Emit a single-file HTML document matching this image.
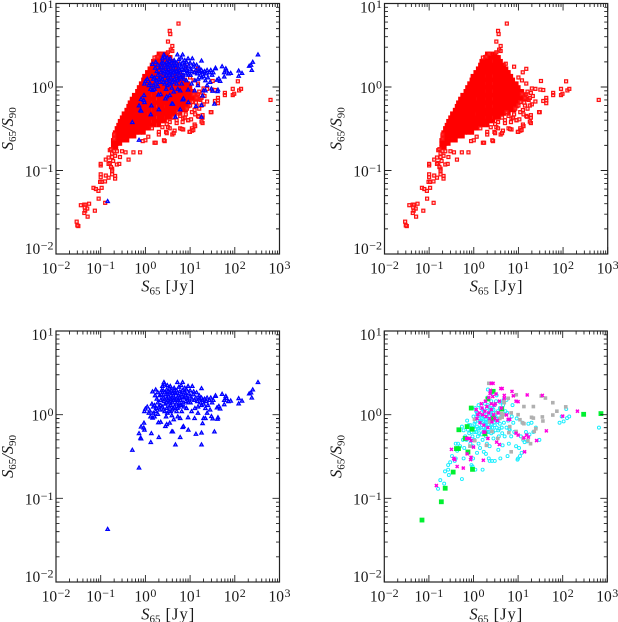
<!DOCTYPE html>
<html><head><meta charset="utf-8"><title>S65/S90 flux ratio panels</title>
<style>
html,body{margin:0;padding:0;background:#fff;width:618px;height:622px;overflow:hidden}
svg{display:block}
text{font-family:"Liberation Serif",serif;fill:#1a1a1a}
</style></head>
<body>
<svg id="chart" xmlns="http://www.w3.org/2000/svg" width="618" height="622" viewBox="0 0 618 622"></svg>
<script>
const xTickExponents = [-2,-1,0,1,2,3];
const yTickExponents = [-2,-1,0,1];

const redCoreRows = [
[2.5,[2,2.4,3]],
[2.27,[1.8,2.2,2.7,3.3,3.6]],
[2.04,[1.5,1.75,2,2.4,3,3.6,4]],
[1.84,[1.4,1.6,1.9,2.2,2.7,3.3,3.9,4.7]],
[1.66,[1.25,1.45,1.75,2.1,2.5,3,3.6,4.3,5.3]],
[1.5,[1.1,1.3,1.6,1.9,2.3,2.7,3.3,3.9,4.7,5.6,6]],
[1.35,[.95,1.1,1.3,1.6,2,2.4,3,3.6,4.3,5.1,6.2,6.8]],
[1.22,[.9,1.05,1.25,1.5,1.8,2.2,2.7,3.3,3.9,4.7,5.6,6.8,7.5]],
[1.1,[.8,.95,1.1,1.3,1.6,2,2.4,3,3.6,4.3,5.1,6.2,7.5,9]],
[.99,[.72,.85,1,1.2,1.5,1.8,2.2,2.7,3.3,3.9,4.7,5.6,6.8,8.2,10]],
[.89,[.66,.78,.91,1.1,1.3,1.6,2,2.4,3,3.6,4.3,5.1,6.2,7.5,9.1,11,12]],
[.8,[.56,.68,.82,1,1.2,1.5,1.8,2.2,2.7,3.3,3.9,4.7,5.6,6.8,8.2,10,12,14]],
[.72,[.5,.6,.72,.88,1.05,1.3,1.6,2,2.4,3,3.6,4.3,5.1,6.2,7.5,9.1,11,13,16]],
[.65,[.45,.56,.68,.82,1,1.2,1.5,1.8,2.2,2.7,3.3,3.9,4.7,5.6,6.8,8.2,10]],
[.59,[.42,.5,.6,.75,.91,1.1,1.3,1.6,2,2.4,3,3.6,4.3,5.1,6.2,7.5,9.1]],
[.53,[.38,.47,.56,.68,.82,1,1.2,1.5,1.8,2.2,2.7,3.3,3.9,4.7,5.6,6.8,8]],
[.48,[.33,.4,.48,.58,.7,.85,1,1.25,1.5,1.8,2.2,2.7,3.3,3.9,4.7,6]],
[.43,[.3,.36,.43,.51,.62,.75,.91,1.1,1.3,1.6,2,2.4,3,3.6]],
[.39,[.27,.33,.39,.47,.56,.68,.82,1,1.2,1.5,1.8,2.2,2.7]],
[.35,[.25,.3,.36,.43,.51,.62,.75,.91,1.1,1.3,1.6,2]],
[.32,[.23,.27,.33,.39,.47,.56,.68,.82,1,1.2]],
[.285,[.21,.25,.3,.36,.43,.51,.62,.75,.91]],
[.257,[.2,.24,.28,.33,.39,.47,.56]],
[.23,[.19,.22,.27,.33,.39]],
[.21,[.19,.23,.27]],
[.19,[.19,.22]]
];
const redOutliers = [
[5.5,5.75],[3.5,4.7],[3.6,4.3],[3.2,3.5],[4,3.1],[3.7,2.8],[3.2,2.6],[4,2.7],[2.2,2.5],[1.6,2.25],[1.9,2.3],
[5.2,1.9],[8,1.75],[15,1.65],[12.5,1.5],[32,1.18],[117,1.17],[10,1.3],[15,1.1],[12,1.2],[20,.96],[24,.95],[36,.92],[31,.93],
[60,.85],[60,.8],[90,.8],[90,.95],[97,.83],[125,.91],[138,.95],[42,.74],[42,.69],[36,.68],[42,.64],[24,.67],[630,.7],[30,.5],
[19,.43],[19,.37],[15,.45],[13,.34],[11,.32],[9.7,.29],[11,.3],[6,.32],[7,.31],[4,.27],[2.7,.225],[1.6,.215],[1.7,.215],
[2,.27],[2.9,.29],[3.2,.33],[1,.23],[.76,.165],[.42,.135],[.54,.165],[4.5,.3],[3.5,.38],[5,.4],[7,.42],[9,.4],[10.5,.41],[6,.45],[8,.47],[11,.5],[13,.47],[16,.55],[14,.6],[20,.62],[17,.7],[21,.78],[19,.85],[15,.82],
[2.6,.23],[1.16,.254],[.87,.225],[9.9,.29],[11.8,.305],[12.6,.355],[18,.385],[15.5,.44],[29,.5],[19,.46],[6.5,.314],[4.3,.28],[3.5,.32],[3,.28],[2,.29],[1.4,.32],[5,.37],[7.6,.43],[9.1,.4],[12.6,.53],[18,.6],[18,.74],[13.5,.65],[10,.6],[4.3,.43],[5.4,.5],[3,.36],[2.4,.33],[6.8,.38],[8.5,.55],[11,.66],[14,.74],[12,.82],[16,.88],
[.029,.0244],[.0316,.0216],[.03,.022],[.036,.0384],[.043,.039],[.046,.039],[.055,.04],[.045,.033],[.043,.031],[.05,.035],[.051,.028],[.044,.036],
[.074,.033],[.069,.062],[.078,.06],[.089,.057],[.105,.062],[.09,.046],[.126,.041],[.097,.073],[.105,.073],[.1,.09],[.1,.083],[.1,.115],[.1,.12],
[.13,.087],[.15,.082],[.125,.074],[.21,.08],[.18,.09],[.21,.086],[.16,.123],[.13,.135],[.18,.145],[.15,.12],[.19,.13],[.23,.118],[.26,.12],[.18,.105],[.18,.1],[.17,.11],[.15,.143],[.16,.175],[.27,.145],[.21,.15],[.23,.17],[.3,.17],[.36,.165],[.2,.27],[.2,.24],[.17,.18],[.18,.16],[.2,.17]
];
const blueSources = [
[.143,.043],[.51,.38],[.72,.233],[.72,.6],[.8,.72],[.93,.8],[.78,.53],[.8,.52],[.95,.66],[.92,.7],[1.32,.47],[1.36,.6],[2,.54],[1.95,.81],[2.2,.82],[2.8,.73],[3,.77],[3.9,.63],[4.1,.63],[6,.54],[4.7,.44],[6.8,.71],[7.1,.73],[9.1,.66],[13.5,.59],[18,.61],[18,.44],[19,.79],[20,.91],[22,.91],[12.6,.91],[9,.93],[6,.91],[4.3,.88],[3.5,.8],
[35,.63],[32,.9],[30,.96],[41,.89],[42,.93],[122,1.36],[122,1.57],[145,1.47],[210,1.79],[230,1.84],[240,1.6],[252,2],[330,2.45],
[52,1.77],[63,1.67],[65,1.57],[58,1.5],[58,1.33],[72,1.45],[81,1.47],[40,1.22],[44,1.27],[47,1.18],[37,1.67],[37,1.7],
[2.6,2.45],[5.2,2.45],[6.8,2.45],[9,2.2],[11.2,2.2],[18,2.07],[1.44,1.89],[1.7,2],[2.7,2.3],[2.4,2.2],[3.1,2.25],[3.6,2.2],[4.4,2.1],[5.6,2.15],[6.3,2.25],[7.6,2.1],[8.3,2],[10,1.95],[12,1.9],[14,1.85],[16,1.7],
[1.1,1.25],[1,1.18],[.95,1.1],[1.25,1.12],[1.4,1.35],[1.3,.95],[1.45,.92],[1.6,.95],[1.5,1.05],[1.75,1.2],[1.9,1.02],[2.1,1.15],[2.2,1.3],[1.9,1.4],[1.8,1.55],[2.1,1.7],[1.9,1.85],[2.3,1.95],[2.5,1.6],[2.6,1.45],[2.4,1.25],[2.7,1.1],[2.9,.95],[3.1,1.05],[2.8,1.35],[3,1.55],[2.9,1.75],[3.2,1.9],[3.5,2.05],[3.3,1.65],[3.6,1.45],[3.4,1.25],[3.7,1.1],[3.9,.98],[4.2,1.2],[4.1,1.4],[3.9,1.6],[4,1.8],[4.4,1.95],[4.8,1.8],[4.6,1.55],[4.9,1.35],[5,1.1],[5.3,.95],[5.5,1.25],[5.4,1.5],[5.5,1.7],[5.9,1.9],[6.3,1.75],[6.1,1.5],[6.4,1.3],[6.5,1.1],[7,1.4],[7.2,1.6],[7.4,1.85],[7.8,1.7],[8,1.45],[8.3,1.2],[8.9,1.55],[9.4,1.8],[9.8,1.65],[10.2,1.4],[10.8,1.1],[11,1.55],[11.7,1.75],[12.5,1.5],[12.8,1.2],[13.5,1.6],[14.5,1.45],[15,1.25],[16,1.55],[17,1.4],[18,1.6],[19,1.5],[20,1.35],[21,1.55],[22,1.2],[23,1.45],[24,1.6],[25,1.3],[27,1.5],[28,1.15],[29,1.6],[31,1.4],[33,1.5],[24,1.05],[15,1.05],[18,1.3],
[2,1.25],[2.2,1.5],[2.3,1.75],[2.5,1.95],[2.5,1.15],[2.7,1.55],[2.7,1.85],[3,1.2],[3,1.4],[3,2],[3.2,1.5],[3.2,1.75],[3.4,1.1],[3.4,1.4],[3.5,1.85],[3.7,1.3],[3.7,1.55],[3.8,1.95],[4,1.15],[4.2,1.7],[4.3,1.5],[4.5,1.25],[4.6,1.85],[5,1.55],[5,1.95],[5.2,1.2],[5.7,1.4],[5.8,1.6],[6,1.3],[6.6,1.65],[6.7,1.95],[7.3,1.25],[8,1.8],[8.5,1.6],[9.2,1.4],[1.6,1.3],[1.7,1.1],[1.5,1.25],[1.2,1.05],[1.65,1.7]
];
const cyanSources = [
[.16,.13],[.18,.165],[.22,.15],[.23,.21],[.27,.22],[.27,.25],[.28,.19],[.3,.27],[.33,.32],[.38,.28],[.4,.3],[.4,.45],[.45,.45],[.43,.37],[.5,.42],[.55,.17],[.6,.3],[.62,.4],[.65,.55],[.55,.72],[.72,.85],[.8,.6],[.85,.45],[.9,.25],[.95,.24],[.98,.42],[1.1,.22],
[.7,.5],[.75,.66],[.85,.75],[.9,.62],[.95,.55],[1,.7],[1,.95],[1.05,.5],[1.1,.82],[1.15,.62],[1.2,.72],[1.2,1.05],[1.25,.55],[1.3,.9],[1.3,.45],[1.35,.68],[1.4,.82],[1.45,1.2],[1.5,.58],[1.5,.98],[1.55,.75],[1.6,.5],[1.65,.88],[1.7,1.1],[1.75,.65],[1.8,1.35],[1.85,.8],[1.9,.55],[1.95,1],[2,.72],[2,1.2],[2.05,1.6],[2.1,2],[2.15,.9],[2.2,.62],[2.3,1.1],[2.3,.42],[2.4,.82],[2.5,1.45],[2.5,1.8],[2.6,.7],[2.7,1.05],[2.8,.52],[2.9,.88],[3,1.3],[3,.28],[3.1,.65],[3.2,1.05],[3.3,1.7],[3.5,.82],[3.6,.38],[3.7,.55],[3.8,.68],[3.9,1.2],[4,.3],[4.2,.95],[4.3,.7],[4.5,.43],[4.7,1.5],[4.8,.8],[5,.55],[5.2,1.1],[5.5,.7],[5.8,.32],[6,.85],[6.2,.45],[6.5,.66],[7,.55],[7.5,1.3],[7.8,.8],[8.2,.62],[9,.42],[9.3,.9],[9.7,.29],[10,.3],[10.5,.4],[11,.32],[11.5,.55],[12,.35],[12.5,.8],[13,.5],[14,.47],[15,.62],[16,.48],[17,.78],[18,.58],[20,.8],[22,.62],[25,.7],[30,.5],[95,.95],[85,.8],[105,.83],[125,.91],[140,.95],[120,1.17],[650,.7],
[2.2,.3],[2.3,.28],[2.6,.28],[1.6,.22],[1.9,.34],[2,.45],[1.2,.35],[1.4,.4],[.98,.3],[1.7,.36],[.6,.65],[.58,.5],[.78,.75],[1.1,1.2],[1.15,1.1],[1.3,1.3],[1.4,1],[1.5,.85],[1.6,1.15],[1.7,.7],[1.8,.95],[1.9,.82],[2.1,1.3],[2.2,1.05],[2.3,.85],[2.4,1.2],[2.5,.6],[2.6,.95],[2.8,1.15],[3,.75],[3.2,1.45],[3.5,1.1],[3.7,.9],[4,1.4],[4.4,.6],[4.6,1.3],[5.5,1.5],[5.7,1.05],[6.3,.68],[7.2,.95],
[1.05,.78],[1.25,.85],[1.35,.6],[1.45,.7],[1.55,.9],[1.65,.62],[1.75,.78],[1.85,.68],[1.95,.88],[2.05,.62],[2.15,.75],[2.25,.95],[2.35,.7],[2.45,1.05],[2.55,.78],[2.65,1.2],[2.75,.62],[2.85,.8],[3.1,.95],[3.3,.7],[3.4,.9],[3.6,.65],[3.9,.78],[1.15,.95],[1.25,.68],[1.05,.62]
];
const magentaSources = [
[.147,.142],[.32,.385],[.38,.29],[.36,.3],[.59,.23],[.43,.24],[.72,.34],[.88,.31],[.86,.29],[.88,.49],[1,.41],[.7,.52],[.82,.52],[1.66,.285],[35,1.7],[16,1.72],[7.3,1.9],[7.8,1.68],[214,1.1],[100,.96],[43,.64],[26,.49],[14,.36],[15.5,.57],[17,.54],[13.5,.53],[9,.6],[10,.57],[4.1,2.05],[4.4,2.05],[2.5,2.37],[2.75,2.37],[2.35,1.8],[3.2,1.77],[9,1.45],[10,1.43],[4.9,1.57],[5.5,.99],[6.5,.88],[2.1,.52],[3.3,.47],[3.8,.44],
[1.15,1.15],[1.2,.9],[1.25,1],[1.35,1.05],[1.4,.8],[1.5,1.35],[1.55,1.2],[1.6,1],[1.7,.75],[1.8,1.1],[1.85,1.45],[1.9,.95],[2,1.25],[2.1,.7],[2.2,1.05],[2.2,1.6],[2.3,.9],[2.4,1.95],[2.5,1.15],[2.5,1.35],[2.6,.82],[2.7,1.65],[2.8,1],[2.9,1.3],[3,.9],[3.1,1.35],[3.4,.85],[3.6,1.05],[3.8,1.45],[4.2,1.2],[4.9,1.7],[.75,.52],[1.7,.62],[1.8,.62],[6,.88]
];
const graySources = [
[2.2,2.37],[2.5,2.37],[6,1.57],[9.1,1.73],[41,1.58],[33,1.67],[60,1.39],[74,1.1],[60,.99],[117,1.24],[22,1.25],[13.5,1.25],[10,1],[7,1.05],[4.9,1.39],[11,.87],[12.6,.8],[13.5,.78],[20,.93],[22,.91],[35,.94],[36,.84],[25,.68],[23,.63],[19,.45],[7,.36],[6.2,.61],[6.5,.72],[4.9,1],[3.9,.9],[4.3,1.03],[3.5,.52],[1.95,.43],[1.07,.49],[.83,.42],[1.05,.88],[2.3,.82],[2.6,.63],[4.4,.93],[9,.63],[13,.52],[16.6,.49],[3.4,1.05],[4.8,1.45]
];
const greenSources = [
[.07,.055],[.19,.091],[.232,.132],[.35,.206],[.95,.222],[.415,.393],[.46,.393],[.75,.358],[.47,.66],[.65,.52],[.72,.72],[.93,.67],[.89,1.2],[1.8,.59],[2.1,1.54],[2.76,1.9],[2.8,.91],[4.3,1.17],[295,1.01],[720,1.03]
];

const svg = document.getElementById('chart');
const NS = 'http://www.w3.org/2000/svg';
function mk(tag, attrs, parent) {
  const e = document.createElementNS(NS, tag);
  for (const k in attrs) e.setAttribute(k, attrs[k]);
  parent.appendChild(e);
  return e;
}
function redCorePoints() {
  const out = [];
  redCoreRows.forEach(function (row) {
    row[1].forEach(function (s) { out.push([s, row[0]]); });
  });
  return out;
}
function scales(p) {
  return {
    x: function (v) { return p.x0 + (Math.log10(v) + 2) / 5 * (p.x1 - p.x0); },
    y: function (v) { return p.y0 + (1 - Math.log10(v)) / 3 * (p.y1 - p.y0); }
  };
}
function square(g, cx, cy, s, stroke, fill, sw) {
  return mk('rect', {x: cx - s / 2, y: cy - s / 2, width: s, height: s, fill: fill, stroke: stroke, 'stroke-width': sw}, g);
}
const painters = {
  redCore: function (g, x, y) { return square(g, x, y, 3.2, '#ff0000', '#ff0000', 1.2); },
  red: function (g, x, y) { return square(g, x, y, 3, '#ff1010', 'rgba(255,120,120,.35)', 1.2); },
  blue: function (g, x, y) {
    return mk('path', {d: 'M' + (x - 1.7) + ' ' + (y + 1.4) + 'h3.4L' + x + ' ' + (y - 1.6) + 'z', fill: 'rgba(120,120,255,.4)', stroke: '#0000ff', 'stroke-width': 1.25}, g);
  },
  cyan: function (g, x, y) { return mk('circle', {cx: x, cy: y, r: 1.5, fill: 'none', stroke: '#18eeff', 'stroke-width': .95}, g); },
  magenta: function (g, x, y) {
    return mk('path', {d: 'M' + (x - 1.5) + ' ' + (y - 1.5) + 'l3 3M' + (x - 1.5) + ' ' + (y + 1.5) + 'l3 -3', fill: 'none', stroke: '#ff00e0', 'stroke-width': 1.5}, g);
  },
  gray: function (g, x, y) { return square(g, x, y, 3.6, 'none', '#b0b0b0', 0); },
  green: function (g, x, y) { return square(g, x, y, 4.8, 'none', '#00f030', 0); }
};
function drawSeries(panel, sc, pts, kind) {
  const g = mk('g', {}, panel);
  
  
  pts.forEach(function (pt) {
    const el = painters[kind](g, sc.x(pt[0]), sc.y(pt[1]));
    
    
  });
}
function tickLabel(parent, anchorX, baseY, exp, anchor) {
  const t = mk('text', {x: anchorX, y: baseY, 'text-anchor': anchor, 'font-size': 15.5}, parent);
  
  
  t.appendChild(document.createTextNode('10'));
  const s = mk('tspan', {dy: -4.5, dx: .5, 'font-size': 12}, t);
  s.textContent = String(exp).replace('-', '\u2212');
}
function drawAxes(panel, p, sc) {
  let d = '';
  xTickExponents.forEach(function (e, i) {
    const v = Math.pow(10, e), X = sc.x(v);
    d += 'M' + X + ' ' + p.y1 + 'v-7M' + X + ' ' + p.y0 + 'v7';
    if (i < xTickExponents.length - 1) {
      for (let m = 2; m < 10; m++) {
        const Xm = sc.x(m * v);
        d += 'M' + Xm + ' ' + p.y1 + 'v-3.5M' + Xm + ' ' + p.y0 + 'v3.5';
      }
    }
  });
  yTickExponents.forEach(function (e, i) {
    const v = Math.pow(10, e), Y = sc.y(v);
    d += 'M' + p.x0 + ' ' + Y + 'h7M' + p.x1 + ' ' + Y + 'h-7';
    if (i < yTickExponents.length - 1) {
      for (let m = 2; m < 10; m++) {
        const Ym = sc.y(m * v);
        d += 'M' + p.x0 + ' ' + Ym + 'h3.5M' + p.x1 + ' ' + Ym + 'h-3.5';
      }
    }
  });
  const ticks = mk('path', {d: d, fill: 'none', stroke: '#222', 'stroke-width': .9}, panel);
  
  
  const frame = mk('rect', {x: p.x0, y: p.y0, width: p.x1 - p.x0, height: p.y1 - p.y0, fill: 'none', stroke: '#222', 'stroke-width': 1.2}, panel);
  
  

  xTickExponents.forEach(function (e) {
    tickLabel(panel, sc.x(Math.pow(10, e)), p.y1 + 19.5, e, 'middle');
  });
  yTickExponents.forEach(function (e) {
    let base = sc.y(Math.pow(10, e)) + 6;
    if (e === 1) base += 3;
    if (e === -2) base -= 6;
    tickLabel(panel, p.x0 - 2.5, base, e, 'end');
  });

  const xt = mk('text', {x: (p.x0 + p.x1) / 2 + .5, y: p.y1 + 37.5, 'text-anchor': 'middle', 'font-size': 16.5}, panel);
  
  
  mk('tspan', {'font-style': 'italic'}, xt).textContent = 'S';
  mk('tspan', {dy: 3, 'font-size': 11}, xt).textContent = '65';
  mk('tspan', {dy: -3, dx: 5, 'letter-spacing': 1}, xt).textContent = '[Jy]';

  const cy = (p.y0 + p.y1) / 2;
  const bx = p.x0 - 43;
  const yt = mk('text', {x: bx, y: cy, 'text-anchor': 'middle', 'font-size': 16.5, transform: 'rotate(-90 ' + bx + ' ' + cy + ')'}, panel);
  
  
  mk('tspan', {'font-style': 'italic'}, yt).textContent = 'S';
  mk('tspan', {dy: 3, 'font-size': 11}, yt).textContent = '65';
  mk('tspan', {dy: -3, 'font-style': 'italic'}, yt).textContent = '/S';
  mk('tspan', {dy: 3, 'font-size': 11}, yt).textContent = '90';
}

const panels = [
  {name: 'panel-red-blue', x0: 56, x1: 279.5, y0: 3.5, y1: 254, series: [[redCorePoints(), 'redCore'], [redOutliers, 'red'], [blueSources, 'blue']]},
  {name: 'panel-red', x0: 384.5, x1: 607.7, y0: 3.5, y1: 254, series: [[redCorePoints(), 'redCore'], [redOutliers, 'red']]},
  {name: 'panel-blue', x0: 56, x1: 279.5, y0: 331, y1: 582, series: [[blueSources, 'blue']]},
  {name: 'panel-classes', x0: 384.3, x1: 607.3, y0: 331, y1: 582, series: [[cyanSources, 'cyan'], [graySources, 'gray'], [greenSources, 'green'], [magentaSources, 'magenta']]}
];
panels.forEach(function (p) {
  const g = mk('g', {}, svg);
  
  
  const sc = scales(p);
  p.series.forEach(function (s) { drawSeries(g, sc, s[0], s[1]); });
  drawAxes(g, p, sc);
});
</script>
</body></html>
